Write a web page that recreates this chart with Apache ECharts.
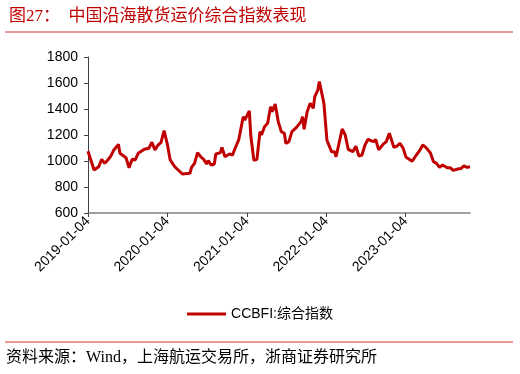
<!DOCTYPE html>
<html>
<head>
<meta charset="utf-8">
<script src="https://cdn.jsdelivr.net/npm/echarts@6/dist/echarts.min.js"></script>
<style>
  html, body { margin: 0; padding: 0; background: #fff; }
  #chart { width: 520px; height: 374px; }
</style>
</head>
<body>
<div id="chart"></div>
<script>
var dates = [
  "2019-01-04", "2019-02-01", "2019-02-22", "2019-03-08", "2019-03-22", "2019-04-05",
  "2019-04-19", "2019-05-03", "2019-05-24", "2019-05-31", "2019-06-28", "2019-07-12",
  "2019-07-26", "2019-08-09", "2019-08-23", "2019-09-20", "2019-10-11", "2019-10-25",
  "2019-11-08", "2019-11-22", "2019-12-06", "2019-12-20",
  "2020-01-03", "2020-01-17", "2020-02-07", "2020-03-13", "2020-04-17", "2020-04-24",
  "2020-05-08", "2020-05-22", "2020-06-05", "2020-06-19", "2020-07-03", "2020-07-10",
  "2020-07-24", "2020-08-07", "2020-08-14", "2020-09-04", "2020-09-11", "2020-09-25",
  "2020-10-16", "2020-10-30", "2020-11-06", "2020-11-27", "2020-12-18", "2020-12-25",
  "2021-01-15", "2021-01-22", "2021-02-05", "2021-02-19", "2021-03-05", "2021-03-12",
  "2021-03-26", "2021-04-09", "2021-04-23", "2021-04-30", "2021-05-14", "2021-05-28",
  "2021-06-11", "2021-06-25", "2021-07-02", "2021-07-16", "2021-07-30", "2021-08-20",
  "2021-09-10", "2021-09-17", "2021-09-24", "2021-10-08", "2021-10-15", "2021-10-22",
  "2021-11-05", "2021-11-12", "2021-11-26", "2021-12-03", "2021-12-24",
  "2022-01-07", "2022-01-14", "2022-01-28", "2022-02-11", "2022-02-18", "2022-03-18",
  "2022-04-01", "2022-04-15", "2022-05-06", "2022-05-20", "2022-06-03", "2022-06-17",
  "2022-07-01", "2022-07-15", "2022-07-29", "2022-08-12", "2022-08-19", "2022-09-02",
  "2022-09-23", "2022-10-07", "2022-10-21", "2022-11-11", "2022-11-25", "2022-12-09",
  "2022-12-23",
  "2023-01-06", "2023-02-03", "2023-02-24", "2023-03-10", "2023-03-24", "2023-04-07",
  "2023-04-28", "2023-05-12", "2023-05-26", "2023-06-09", "2023-06-23", "2023-07-14",
  "2023-07-28", "2023-08-11", "2023-09-01", "2023-09-15", "2023-09-29", "2023-10-13",
  "2023-10-27"
];

var ccbfi = [
  1075, 931, 956, 1013, 982, 1008,
  1038, 1085, 1128, 1059, 1025, 948,
  1013, 1008, 1059, 1090, 1098, 1144,
  1085, 1123, 1144, 1233,
  1136, 1008, 956, 900, 905, 951,
  982, 1064, 1033, 1013, 977, 1002,
  969, 977, 1054, 1064, 1105, 1033,
  1054, 1046, 1079, 1162, 1341, 1315,
  1385, 1190, 1005, 1013, 1226, 1200,
  1264, 1290, 1418, 1379, 1438, 1303,
  1226, 1213, 1136, 1149, 1226, 1259,
  1303, 1341, 1244, 1379, 1367, 1444,
  1405, 1495, 1546, 1612, 1444,
  1160, 1149, 1072, 1072, 1033, 1246,
  1200, 1090, 1072, 1113, 1038, 1046,
  1123, 1167, 1156, 1149, 1167, 1085,
  1130, 1149, 1213, 1105, 1115, 1136,
  1100,
  1028, 998, 1050, 1082, 1123, 1105,
  1062, 995, 982, 951, 969, 948,
  948, 928, 938, 942, 962, 951,
  956
];

var xTicks = ["2019-01-04", "2020-01-04", "2021-01-04", "2022-01-04", "2023-01-04"];

function toTime(s) {
  return echarts.number.parseDate(s).getTime();
}

var chart = echarts.init(document.getElementById("chart"));

var seriesData = dates.map(function (d, i) {
  return [toTime(d), ccbfi[i]];
});
var tickValues = xTicks.map(toTime);

var option = {
  animation: false,
  backgroundColor: "#fff",
  textStyle: { fontFamily: "Liberation Sans, Arial, sans-serif" },
  title: {
    text: "图27：  中国沿海散货运价综合指数表现",
    left: 4,
    top: 3,
    textStyle: {
      color: "#C00000",
      fontSize: 17,
      fontWeight: "normal",
      fontFamily: "Liberation Serif, Noto Sans CJK SC, serif"
    }
  },
  graphic: [
    {
      type: "line",
      shape: { x1: 5, y1: 32, x2: 513, y2: 32 },
      style: { stroke: "#D9302F", lineWidth: 1 }
    },
    {
      type: "line",
      shape: { x1: 5, y1: 342, x2: 513, y2: 342 },
      style: { stroke: "#D9302F", lineWidth: 1 }
    },
    {
      type: "text",
      left: 6,
      top: 350,
      style: {
        text: "资料来源：Wind，上海航运交易所，浙商证券研究所",
        fill: "#000",
        fontSize: 16,
        fontFamily: "Liberation Serif, Noto Sans CJK SC, serif"
      }
    }
  ],
  legend: {
    left: "center",
    top: 302,
    icon: "rect",
    itemWidth: 39,
    itemHeight: 3,
    itemGap: 5,
    textStyle: {
      color: "#000",
      fontSize: 14,
      fontFamily: "Liberation Sans, Noto Sans CJK SC, sans-serif"
    },
    data: ["CCBFI:综合指数"]
  },
  grid: {
    left: 88,
    right: 50,
    top: 57,
    bottom: 161,
    containLabel: false
  },
  xAxis: {
    type: "value",
    min: toTime("2019-01-04"),
    max: toTime("2023-10-27"),
    axisLine: { lineStyle: { color: "#808080", width: 1.5 } },
    axisTick: {
      show: true,
      length: 4,
      customValues: tickValues,
      lineStyle: { color: "#404040" }
    },
    axisLabel: {
      rotate: 45,
      fontSize: 14,
      color: "#000",
      margin: 6,
      customValues: tickValues,
      formatter: function (v) {
        return echarts.time.format(v, "{yyyy}-{MM}-{dd}", false);
      }
    },
    splitLine: { show: false }
  },
  yAxis: {
    type: "value",
    min: 600,
    max: 1800,
    interval: 200,
    axisLine: { show: true, lineStyle: { color: "#404040", width: 1 } },
    axisTick: { show: true, length: 4, lineStyle: { color: "#404040" } },
    axisLabel: {
      fontSize: 14,
      color: "#000",
      margin: 10,
      formatter: function (v) { return String(v); }
    },
    splitLine: { show: false }
  },
  series: [
    {
      name: "CCBFI:综合指数",
      type: "line",
      data: seriesData,
      symbol: "none",
      smooth: false,
      lineStyle: { color: "#C00000", width: 3 },
      itemStyle: { color: "#C00000" }
    }
  ]
};

chart.setOption(option);
</script>
</body>
</html>
